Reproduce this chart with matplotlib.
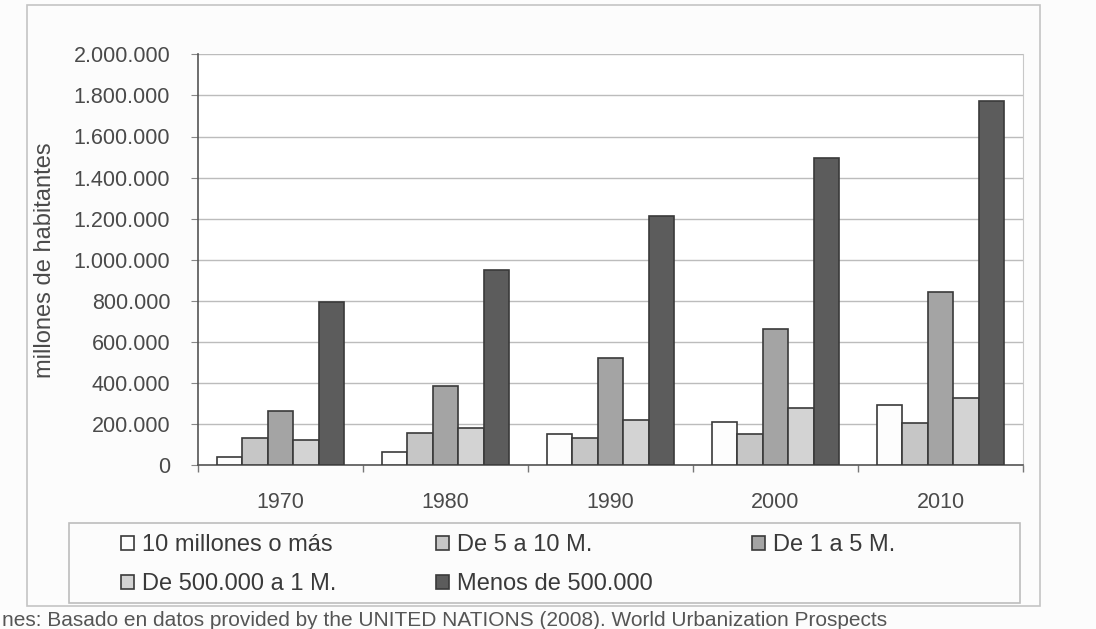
import numpy as np
import matplotlib
matplotlib.use("Agg")
import matplotlib.pyplot as plt
from matplotlib.patches import Rectangle
from matplotlib.ticker import FuncFormatter, FixedLocator

plt.rcParams['font.family'] = ['Liberation Sans', 'DejaVu Sans']

# Población urbana por tamaño de ciudad (habitantes)
years = ['1970', '1980', '1990', '2000', '2010']
mas_10M = [42000, 66000, 151000, 209000, 293000]
de_5_10M = [131000, 156000, 131000, 154000, 204000]
de_1_5M = [266000, 387000, 524000, 662000, 842000]
de_500k_1M = [122000, 180000, 220000, 277000, 326000]
menos_500k = [796000, 950000, 1212000, 1497000, 1772000]

series = [mas_10M, de_5_10M, de_1_5M, de_500k_1M, menos_500k]
labels = ['10 millones o más', 'De 5 a 10 M.', 'De 1 a 5 M.',
          'De 500.000 a 1 M.', 'Menos de 500.000']
colors = ['#fdfdfd', '#c6c6c6', '#a4a4a4', '#d3d3d3', '#5c5c5c']

W, H = 1096, 629
fig = plt.figure(figsize=(W / 100, H / 100), dpi=100, facecolor='#fcfcfc')
ax = fig.add_axes([198 / W, 1 - 465.3 / H, 825 / W, 411 / H])
ax.set_facecolor('white')

x = np.arange(len(years))
bw = 0.155
handles = []
for i, (vals, lab, col) in enumerate(zip(series, labels, colors)):
    b = ax.bar(x + (i - 2) * bw, vals, bw, color=col, edgecolor='#3a3a3a',
               linewidth=1.2, label=lab, zorder=3)
    handles.append(b)

ax.set_xlim(-0.5, len(years) - 0.5)
ax.set_ylim(0, 2000000)
ax.set_yticks(np.arange(0, 2000001, 200000))
ax.yaxis.set_major_formatter(FuncFormatter(lambda v, p: f"{int(v):,}".replace(',', '.')))
ax.grid(axis='y', color='#bcbcbc', linewidth=1, zorder=0)

# años centrados, marcas entre categorías
ax.set_xticks(x)
ax.set_xticklabels(years)
ax.xaxis.set_minor_locator(FixedLocator(np.arange(-0.5, len(years), 1.0)))
ax.tick_params(axis='x', which='major', length=0, pad=19, labelsize=15.5, labelcolor='#4a4a4a')
ax.tick_params(axis='x', which='minor', length=5, color='#777777', width=1)
ax.tick_params(axis='y', length=5, pad=15, labelsize=15.5, labelcolor='#4a4a4a',
               color='#888888')

ax.spines['top'].set_visible(False)
ax.spines['right'].set_color('#c8c8c8')
ax.spines['left'].set_color('#555555')
ax.spines['bottom'].set_color('#555555')
ax.spines['left'].set_linewidth(1.2)
ax.spines['bottom'].set_linewidth(1.2)

fig.text(45 / W, 1 - 260 / H, 'millones de habitantes', rotation=90,
         ha='center', va='center', fontsize=17, color='#4a4a4a')

# marco exterior y recuadro de la leyenda
fig.patches.append(Rectangle((27 / W, 1 - 606 / H), (1040 - 27) / W, (606 - 5) / H,
                             transform=fig.transFigure, fill=False,
                             edgecolor='#c4c4c4', linewidth=1.2))
fig.patches.append(Rectangle((69 / W, 1 - 603 / H), (1020 - 69) / W, (603 - 523) / H,
                             transform=fig.transFigure, fill=False,
                             edgecolor='#bdbdbd', linewidth=1.2))

# la leyenda se rellena por columnas: reordenar para leer por filas
order = [0, 3, 1, 4, 2]
leg = ax.legend(handles=[handles[k] for k in order], ncol=3, loc='upper left',
                bbox_to_anchor=(121 / W, 1 - 534 / H), bbox_transform=fig.transFigure,
                frameon=False, fontsize=17, borderpad=0, borderaxespad=0,
                handlelength=0.55, handleheight=0.55, handletextpad=0.35,
                columnspacing=4.2, labelspacing=0.72)
for t in leg.get_texts():
    t.set_color('#3a3a3a')

fig.text(2 / W, 1 - 626 / H,
         'nes: Basado en datos provided by the UNITED NATIONS (2008). World Urbanization Prospects',
         ha='left', va='baseline', fontsize=15, color='#555555')

fig.savefig('out.png', dpi=100, facecolor=fig.get_facecolor())
